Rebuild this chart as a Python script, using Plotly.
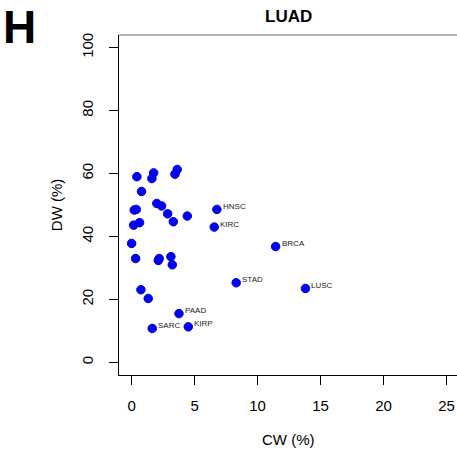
import plotly.graph_objects as go

# Unlabelled cancer types (CW %, DW %)
cw_unlabeled = [0.42, 1.75, 1.61, 3.62, 3.44, 0.79, 2.0, 2.38, 0.21, 0.37, 2.86, 4.42,
                3.31, 0.16, 0.63, 0.0, 0.32, 2.12, 2.19, 3.12, 3.23, 0.74, 1.32]
dw_unlabeled = [59.0, 60.2, 58.4, 61.3, 59.8, 54.3, 50.5, 49.7, 48.4, 48.6, 47.2, 46.5,
                44.7, 43.6, 44.4, 37.8, 33.0, 32.4, 33.0, 33.6, 31.0, 23.1, 20.3]

# Labelled cancer types
labels = ["HNSC", "KIRC", "BRCA", "STAD", "LUSC", "PAAD", "SARC", "KIRP"]
cw_labeled = [6.77, 6.56, 11.43, 8.3, 13.8, 3.76, 1.64, 4.5]
dw_labeled = [48.6, 43.0, 36.8, 25.3, 23.5, 15.5, 10.8, 11.3]

x_ticks = [0, 5, 10, 15, 20, 25]
y_ticks = [0, 20, 40, 60, 80, 100]

FONT = "Liberation Sans, Arial, Helvetica, sans-serif"
marker = dict(size=8.5, color="#0000FF", line=dict(color="#0000C8", width=1))

fig = go.Figure()
fig.add_trace(go.Scatter(x=cw_unlabeled + cw_labeled, y=dw_unlabeled + dw_labeled,
                         mode="markers", marker=marker, hoverinfo="skip",
                         showlegend=False, cliponaxis=False))

annotations = []
for lab, x, y in zip(labels, cw_labeled, dw_labeled):
    annotations.append(dict(x=x, y=y, xref="x", yref="y", text=lab, showarrow=False,
                            xanchor="left", yanchor="middle", xshift=4, yshift=3,
                            font=dict(family=FONT, size=8, color="#222222")))

annotations += [
    dict(x=-0.293, y=1.025, xref="paper", yref="paper", text="<b>H</b>", showarrow=False,
         xanchor="center", yanchor="middle", font=dict(family=FONT, size=46, color="black")),
    dict(x=0.5, y=1.054, xref="paper", yref="paper", text="<b>LUAD</b>", showarrow=False,
         xanchor="center", yanchor="middle", font=dict(family=FONT, size=17, color="black")),
    dict(x=0.5, y=-0.191, xref="paper", yref="paper", text="CW (%)", showarrow=False,
         xanchor="center", yanchor="middle", font=dict(family=FONT, size=15, color="black")),
    dict(x=-0.186, y=0.5, xref="paper", yref="paper", text="DW (%)", showarrow=False,
         textangle=-90, xanchor="center", yanchor="middle",
         font=dict(family=FONT, size=15, color="black")),
]

fig.update_layout(
    width=457, height=453,
    margin=dict(l=119, r=0, t=35, b=78, autoexpand=False),
    paper_bgcolor="white", plot_bgcolor="white",
    font=dict(family=FONT, size=15, color="black"),
    annotations=annotations,
    shapes=[dict(type="line", xref="paper", yref="paper", x0=0, x1=1, y0=1, y1=1,
                 line=dict(color="#666666", width=1))],
    xaxis=dict(range=[-1, 25.825], tickvals=x_ticks, showgrid=False, zeroline=False,
               showline=True, linecolor="black", linewidth=1, automargin=False,
               ticks="outside", ticklen=9, tickcolor="black", tickwidth=1,
               ticklabelstandoff=8, tickfont=dict(size=15)),
    yaxis=dict(range=[-4, 104], tickvals=y_ticks, showgrid=False, zeroline=False,
               showline=True, linecolor="black", linewidth=1, automargin=False,
               ticks="outside", ticklen=9, tickcolor="black", tickwidth=1,
               tickangle=-90, ticklabelstandoff=10, tickfont=dict(size=15)),
)

fig.write_html("out.html", config={"displayModeBar": False, "staticPlot": True},
               post_script="document.body.style.margin='0';document.body.style.overflow='hidden';")
